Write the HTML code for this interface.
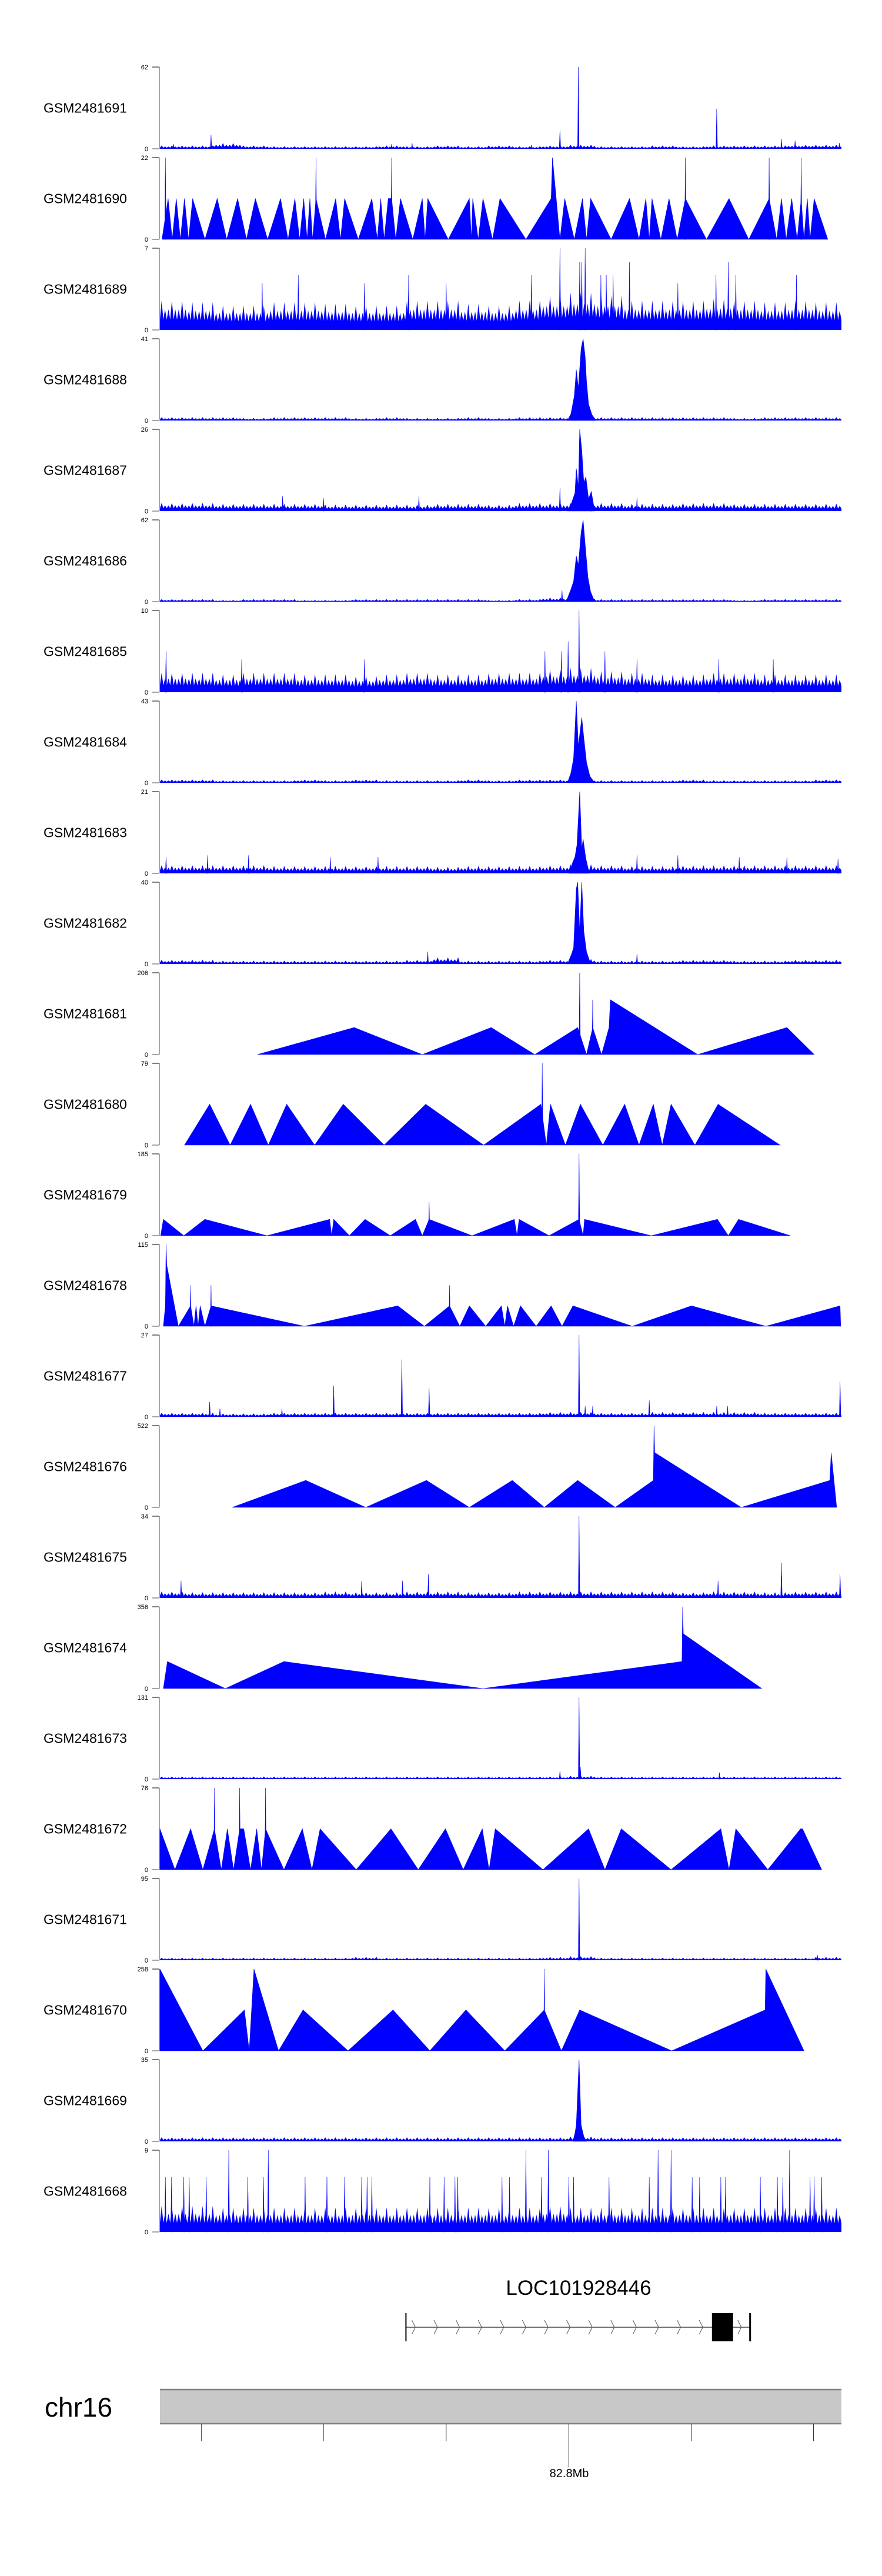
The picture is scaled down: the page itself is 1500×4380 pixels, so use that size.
<!DOCTYPE html>
<html><head><meta charset="utf-8"><style>
html,body{margin:0;padding:0;background:#fff;}
svg{display:block;font-family:"Liberation Sans",Arial,sans-serif;}
</style></head><body>
<svg id="chart" width="1500" height="4380" viewBox="0 0 1500 4380" xmlns="http://www.w3.org/2000/svg">
<g id="tracks"></g>
<g id="gene">
  <text x="984" y="3902" font-size="35" text-anchor="middle" fill="#000">LOC101928446</text>
</g>
<g id="ideo">
  <text x="76" y="4109" font-size="46" fill="#000">chr16</text>
  <rect x="272" y="4063" width="1159" height="58" fill="#c8c8c8"/>
  <line x1="272" x2="1431" y1="4063" y2="4063" stroke="#808080" stroke-width="2.5"/>
  <line x1="272" x2="1431" y1="4121" y2="4121" stroke="#808080" stroke-width="2.5"/>
  <text x="968" y="4212" font-size="20" text-anchor="middle" fill="#000">82.8Mb</text>
</g>
</svg>
<script>
// ---- data (positions on a 0..1000 genomic scale; values in % of track max) ----
const trackNames = ["GSM2481691","GSM2481690","GSM2481689","GSM2481688","GSM2481687","GSM2481686","GSM2481685","GSM2481684","GSM2481683","GSM2481682","GSM2481681","GSM2481680","GSM2481679","GSM2481678","GSM2481677","GSM2481676","GSM2481675","GSM2481674","GSM2481673","GSM2481672","GSM2481671","GSM2481670","GSM2481669","GSM2481668"];
const trackMax = [62,22,7,41,26,62,10,43,21,40,206,79,185,115,27,522,34,356,131,76,95,258,35,9];
const noise0 = [4,4,7,4,3,3,3,3,4,3,4,3,4,3,4,5,3,3,4,3,4,4,4,5,5];
const noise2 = [36,34,30,30,34,34,32,30,30,36,36,32,30,36,42,46,42,36,36,36,38,36,34,36,34];
const noise3 = [4,4,4,3,4,4,4,3,4,3,3,4,3,4,4,4,4,4,4,4,4,3,4,4,4];
const noise4 = [10,10,9,9,9,9,8,8,8,8,9,9,8,10,10,10,10,9,9,10,10,9,9,9,9];
const noise5 = [3,3,2,3,3,2,2,3,3,3,3,3,2,3,5,5,3,3,3,3,3,2,3,3,3];
const noise6 = [24,24,22,24,24,22,22,20,22,24,22,22,24,24,28,30,26,24,22,22,24,24,22,22,22];
const noise7 = [4,4,3,3,3,4,3,4,3,3,3,4,3,4,4,4,3,3,3,4,3,3,3,3,4];
const noise8 = [10,10,10,10,9,9,9,9,9,9,8,9,9,9,10,11,10,9,9,10,10,10,10,10,10];
const noise9 = [5,5,4,4,4,4,4,4,4,5,8,4,4,4,5,6,4,4,4,5,5,4,4,5,5];
const noise14 = [5,5,4,4,5,5,5,5,5,5,5,5,5,5,6,6,5,5,6,6,6,6,5,5,5];
const noise16 = [8,7,7,7,7,7,8,7,7,8,8,7,7,8,8,8,8,8,8,7,8,8,7,8,8];
const noise18 = [3,3,3,3,3,3,3,3,3,3,3,3,3,3,3,4,3,3,3,3,3,3,3,3,3];
const noise20 = [3,3,3,3,3,3,3,4,3,3,3,3,3,3,4,5,3,3,3,3,3,3,3,3,4];
const noise22 = [5,5,5,5,5,5,5,5,5,5,5,5,5,5,5,6,5,5,5,5,5,5,5,5,5];
const noise23 = [32,32,30,30,30,30,30,30,30,30,30,30,30,30,32,30,30,30,30,30,30,30,30,30,30];
const noiseSets = [noise0,null,noise2,noise3,noise4,noise5,noise6,noise7,noise8,noise9,null,null,null,null,noise14,null,noise16,null,noise18,null,noise20,null,noise22,noise23];

const shape1 = [[3,0],[12,50],[18,0],[24,50],[30,0],[36,50],[42,0],[48,50],[66,0],[84,50],[98,0],[114,50],[127,0],[140,50],[158,0],[177,50],[188,0],[198,50],[205,0],[211,50],[216,0],[220,50],[224,0],[229,50],[243,0],[258,50],[265,0],[271,50],[291,0],[311,50],[319,0],[324,50],[329,0],[335,50],[340,50],[346,0],[353,50],[371,0],[385,50],[389,0],[393,50],[423,0],[454,50],[457,0],[459,50],[467,0],[474,50],[488,0],[499,50],[537,0],[574,50],[576,100],[587,0],[594,50],[608,0],[620,50],[626,0],[632,50],[662,0],[689,50],[703,0],[713,50],[718,0],[722,50],[735,0],[747,50],[759,0],[771,50],[802,0],[835,50],[864,0],[894,50],[905,0],[912,50],[919,0],[927,50],[935,0],[941,50],[945,0],[950,50],[954,0],[960,50],[980,0]];
const shape3 = [[598,0],[603,8],[608,30],[611,62],[614,40],[618,88],[621,100],[624,78],[626,48],[629,20],[634,7],[640,0]];
const shape4 = [[598,0],[604,10],[609,22],[611,52],[614,30],[616,100],[619,75],[622,35],[625,42],[629,15],[633,24],[638,0]];
const shape5 = [[596,0],[603,15],[607,25],[611,56],[614,45],[618,85],[621,100],[624,70],[628,30],[632,12],[638,0]];
const shape7 = [[598,0],[603,12],[607,30],[611,100],[614,45],[619,80],[622,55],[626,25],[631,8],[638,0]];
const shape8 = [[600,0],[605,12],[609,20],[612,35],[616,100],[619,30],[621,42],[625,18],[630,0]];
const shape9 = [[598,0],[604,12],[607,20],[611,92],[613,100],[616,40],[619,100],[622,40],[626,15],[632,0]];
const shape10 = [[143,0],[285,33],[385,0],[486,33],[550,0],[613,33],[626,0],[635,33],[648,0],[659,33],[661,67],[789,0],[920,33],[960,0]];
const shape11 = [[36,0],[73,50],[103,0],[133,50],[159,0],[186,50],[227,0],[269,50],[329,0],[390,50],[475,0],[559,50],[567,0],[573,50],[595,0],[617,50],[650,0],[682,50],[703,0],[724,50],[737,0],[750,50],[785,0],[819,50],[910,0]];
const shape12 = [[1,0],[5,20],[35,0],[66,20],[157,0],[249,20],[252,0],[255,20],[278,0],[301,20],[338,0],[375,20],[385,0],[395,20],[458,0],[520,20],[524,0],[527,20],[571,0],[615,20],[621,0],[623,20],[721,0],[818,20],[834,0],[849,20],[925,0]];
const shape13 = [[5,0],[8,25],[9,100],[10,75],[27,0],[45,25],[50,0],[53,25],[56,0],[59,25],[66,0],[75,25],[212,0],[349,25],[388,0],[425,25],[440,0],[454,25],[478,0],[501,25],[506,0],[510,25],[519,0],[529,25],[552,0],[574,25],[590,0],[606,25],[693,0],[780,25],[889,0],[998,25],[999,0]];
const shape15 = [[106,0],[214,33],[302,0],[391,33],[454,0],[517,33],[564,0],[613,33],[668,0],[724,33],[725,100],[726,67],[853,0],[983,33],[985,67],[993,0]];
const shape17 = [[5,0],[11,33],[96,0],[182,33],[474,0],[766,33],[767,100],[768,67],[883,0]];
const shape19 = [[0,0],[0,50],[22,0],[45,50],[63,0],[80,50],[90,0],[99,50],[108,0],[117,50],[123,50],[133,0],[142,50],[149,0],[155,50],[182,0],[209,50],[223,0],[235,50],[288,0],[339,50],[379,0],[419,50],[445,0],[473,50],[483,0],[492,50],[562,0],[629,50],[653,0],[677,50],[750,0],[823,50],[835,0],[845,50],[892,0],[940,50],[943,50],[971,0]];
const shape21 = [[0,0],[0,100],[63,0],[124,50],[131,0],[138,100],[174,0],[210,50],[276,0],[342,50],[396,0],[449,50],[506,0],[564,50],[589,0],[616,50],[751,0],[888,50],[889,100],[945,0]];
const shape22 = [[606,0],[609,10],[611,20],[615,100],[618,20],[622,6],[626,0]];
const shapeSets = [null,shape1,null,shape3,shape4,shape5,null,shape7,shape8,shape9,shape10,shape11,shape12,shape13,null,shape15,null,shape17,null,shape19,null,shape21,shape22,null];

const spikes0 = [[75,17],[587,22],[614,100],[817,49],[912,12],[932,10],[997,7],[20,6],[340,6],[370,7],[545,5]];
const spikes1 = [[8,100],[229,100],[340,100],[576,100],[771,100],[894,100],[941,100]];
const spikes2 = [[587,100],[624,100],[616,83],[619,83],[689,83],[834,83],[203,67],[365,67],[545,67],[647,67],[655,67],[665,67],[816,67],[845,67],[934,67],[150,57],[300,57],[420,57],[760,57]];
const spikes4 = [[587,28],[633,24],[180,18],[380,18],[240,16],[700,16]];
const spikes5 = [[590,14]];
const spikes6 = [[615,100],[599,62],[589,50],[565,50],[653,50],[9,50],[120,40],[300,40],[700,40],[820,40],[900,40]];
const spikes8 = [[9,20],[70,22],[130,22],[250,20],[320,20],[700,22],[760,22],[850,20],[920,20],[995,18]];
const spikes9 = [[393,15],[700,12]];
const spikes10 = [[616,100],[635,67]];
const spikes11 = [[561,100]];
const spikes12 = [[395,41],[615,100]];
const spikes13 = [[45,50],[75,50],[425,50]];
const spikes14 = [[73,18],[255,38],[355,70],[395,35],[615,100],[718,20],[998,43],[624,13],[635,13],[88,10],[179,10],[817,13],[833,13]];
const spikes16 = [[615,100],[912,43],[394,29],[31,21],[296,21],[356,21],[819,21],[998,29]];
const spikes18 = [[615,100],[617,15],[587,10],[821,8]];
const spikes19 = [[80,100],[117,100],[155,100]];
const spikes20 = [[615,100],[965,6]];
const spikes21 = [[564,100]];
const spikes23 = [[101,100],[159,100],[537,100],[570,100],[731,100],[750,100],[924,100],[8,67],[17,67],[35,67],[43,67],[68,67],[129,67],[152,67],[213,67],[245,67],[271,67],[296,67],[304,67],[311,67],[396,67],[417,67],[433,67],[437,67],[502,67],[513,67],[560,67],[600,67],[607,67],[659,67],[718,67],[781,67],[792,67],[823,67],[830,67],[881,67],[906,67],[914,67],[954,67],[960,67],[971,67]];
const spikeSets = [spikes0,spikes1,spikes2,null,spikes4,spikes5,spikes6,null,spikes8,spikes9,spikes10,spikes11,spikes12,spikes13,spikes14,null,spikes16,null,spikes18,spikes19,spikes20,spikes21,null,spikes23];

const geneStart = 361, geneEnd = 866, exonStart = 810, exonEnd = 841;
const scaleTicks = [61, 240, 420, 600, 780, 959];
const labeledTick = 600;

// ---- rendering ----
const NS = "http://www.w3.org/2000/svg";
const X0 = 272, X1 = 1431, TOP0 = 114, STEP = 154, H = 139;
function xs(p){ return X0 + p/1000*(X1-X0); }
function ys(i,pct){ return TOP0 + i*STEP + H - pct/100*H; }
function mk(tag, attrs, parent){
  const e = document.createElementNS(NS, tag);
  for (const k in attrs) e.setAttribute(k, attrs[k]);
  parent.appendChild(e); return e;
}
const tracksG = document.getElementById("tracks");
const BLUE = "#0000ff";

trackNames.forEach((name, i) => {
  const g = mk("g", {}, tracksG);
  
  
  const base = ys(i,0), top = ys(i,100);
  const lab = mk("text", {x:74, y:(top+base)/2+8, "font-size":23, fill:"#000"}, g);
  lab.textContent = name;
  
  
  const ax = mk("line", {x1:271, x2:271, y1:top, y2:base, stroke:"#808080", "stroke-width":1.4}, g);
  
  
  mk("line", {x1:259, x2:271, y1:top, y2:top, stroke:"#000", "stroke-width":1}, g);
  mk("line", {x1:259, x2:271, y1:base, y2:base, stroke:"#808080", "stroke-width":1.4}, g);
  const tmax = mk("text", {x:252, y:top+4, "font-size":11, "text-anchor":"end", fill:"#000"}, g);
  tmax.textContent = trackMax[i];
  
  
  const tz = mk("text", {x:252, y:base+4, "font-size":11, "text-anchor":"end", fill:"#000"}, g);
  tz.textContent = "0";
  
  
  const nz = noiseSets[i];
  if (nz) {
    let d = "M" + xs(0) + "," + base;
    let k = 0;
    for (let p = 0; p <= 1000; p += 2.5, k++) {
      const lvl = nz[Math.min(24, Math.floor(p/40))];
      const f = (k % 2) ? ((k % 6 === 1) ? 1 : 0.7) : 0.35;
      d += " L" + xs(p).toFixed(1) + "," + ys(i, lvl*f).toFixed(1);
    }
    d += " L" + xs(1000) + "," + base + " Z";
    const np = mk("path", {d:d, fill:BLUE, stroke:"none"}, g);
    
    
  }
  const sh = shapeSets[i];
  if (sh) {
    let d = "M" + xs(sh[0][0]).toFixed(1) + "," + base;
    sh.forEach(v => { d += " L" + xs(v[0]).toFixed(1) + "," + ys(i, v[1]).toFixed(1); });
    d += " L" + xs(sh[sh.length-1][0]).toFixed(1) + "," + base + " Z";
    const sp = mk("path", {d:d, fill:BLUE, stroke:BLUE, "stroke-width":0.6}, g);
    
    
  }
  const sk = spikeSets[i];
  if (sk) sk.forEach(s => {
    const x = xs(s[0]);
    const pk = mk("path", {d:"M"+(x-1.3).toFixed(1)+","+base+" L"+x.toFixed(1)+","+ys(i,s[1]).toFixed(1)+" L"+(x+1.3).toFixed(1)+","+base+" Z", fill:BLUE, stroke:BLUE, "stroke-width":0.5}, g);
    
    
  });
});

const geneG = document.getElementById("gene");
const gy = 3957;
const gl = mk("line", {x1:xs(geneStart), x2:xs(geneEnd), y1:gy, y2:gy, stroke:"#444", "stroke-width":1.5}, geneG);


mk("line", {x1:xs(geneStart), x2:xs(geneStart), y1:3933, y2:3981, stroke:"#000", "stroke-width":2}, geneG);
mk("line", {x1:xs(geneEnd), x2:xs(geneEnd), y1:3933, y2:3981, stroke:"#000", "stroke-width":3}, geneG);
for (let x = xs(geneStart)+13; x < xs(exonStart)-4; x += 37.6) {
  const c = mk("polyline", {points:(x-3)+",3945 "+(x+3)+","+gy+" "+(x-3)+",3969", fill:"none", stroke:"#555", "stroke-width":1}, geneG);
  
  
}
mk("polyline", {points:(xs(exonEnd)+8)+",3945 "+(xs(exonEnd)+14)+","+gy+" "+(xs(exonEnd)+8)+",3969", fill:"none", stroke:"#555", "stroke-width":1}, geneG);
const ex = mk("rect", {x:xs(exonStart), y:3933, width:xs(exonEnd)-xs(exonStart), height:48, fill:"#000"}, geneG);



const ideoG = document.getElementById("ideo");
scaleTicks.forEach(t => {
  const tl = mk("line", {x1:xs(t), x2:xs(t), y1:4121, y2: t === labeledTick ? 4195 : 4151, stroke:"#333", "stroke-width":1}, ideoG);
  
  
});
</script>
</body></html>
